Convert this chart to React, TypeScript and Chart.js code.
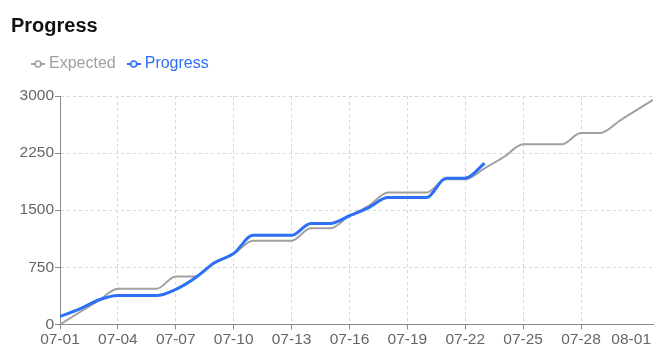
import React, { useEffect, useRef } from "react";
import { Chart, registerables } from "chart.js";

Chart.register(...registerables);

// ---- data ----
const dates = [
  "07-01", "07-02", "07-03", "07-04", "07-05", "07-06", "07-07", "07-08",
  "07-09", "07-10", "07-11", "07-12", "07-13", "07-14", "07-15", "07-16",
  "07-17", "07-18", "07-19", "07-20", "07-21", "07-22", "07-23", "07-24",
  "07-25", "07-26", "07-27", "07-28", "07-29", "07-30", "07-31", "08-01",
];
const expectedValues = [
  0, 156, 312, 468, 468, 468, 630, 630, 805, 925, 1100, 1100, 1100, 1262, 1262, 1427,
  1557, 1732, 1732, 1732, 1907, 1907, 2050, 2199, 2365, 2365, 2365, 2515, 2515, 2675,
  2835, 2990,
];
const progressValues = [
  105, 200, 320, 380, 380, 380, 460, 610, 810, 930, 1170, 1170, 1170, 1326, 1326, 1427,
  1535, 1666, 1666, 1666, 1920, 1920, 2116,
];
const seriesNames = ["Expected", "Progress"];
const xTickDays = [0, 3, 6, 9, 12, 15, 18, 21, 24, 27];
const yTickValues = [0, 750, 1500, 2250, 3000];
const X_MAX = 30.73;
const LAST_LABEL_POS = 29.6;

const FONT = "'Liberation Sans', Arial, Helvetica, sans-serif";
const GREY = "#a0a0a0";
const BLUE = "#2b70f6";
const AXIS = "#8a8a8a";
const GRID = "#d6d6d6";
const LABEL = "#666666";

function makeIcon(color: string): HTMLCanvasElement {
  const c = document.createElement("canvas");
  c.width = 14;
  c.height = 10;
  const g = c.getContext("2d")!;
  g.strokeStyle = color;
  g.lineWidth = 2;
  g.beginPath();
  g.moveTo(0, 5);
  g.lineTo(14, 5);
  g.stroke();
  g.beginPath();
  g.arc(7, 5, 3, 0, Math.PI * 2);
  g.fillStyle = "#ffffff";
  g.fill();
  g.lineWidth = 1.6;
  g.stroke();
  return c;
}

const legendSpacer = {
  id: "legendSpacer",
  beforeInit(chart: any) {
    const legend = chart.legend;
    if (!legend) return;
    const orig = legend.fit;
    legend.fit = function () {
      orig.call(this);
      this.height += 14;
    };
  },
};

export default function App() {
  const ref = useRef<HTMLCanvasElement | null>(null);

  useEffect(() => {
    if (!ref.current) return;
    const icons = [makeIcon(GREY), makeIcon(BLUE)];
    const colors = [GREY, BLUE];
    const chart = new Chart(ref.current, {
      type: "line",
      data: {
        datasets: [
          {
            label: seriesNames[0],
            data: expectedValues.map((v, i) => ({ x: i, y: v })),
            borderColor: GREY,
            backgroundColor: GREY,
            borderWidth: 2,
            pointRadius: 0,
            pointHoverRadius: 0,
            cubicInterpolationMode: "monotone",
            clip: 0,
            order: 2,
          },
          {
            label: seriesNames[1],
            data: progressValues.map((v, i) => ({ x: i, y: v })),
            borderColor: BLUE,
            backgroundColor: BLUE,
            borderWidth: 3,
            pointRadius: 0,
            pointHoverRadius: 0,
            cubicInterpolationMode: "monotone",
            clip: 0,
            order: 1,
          },
        ],
      },
      options: {
        animation: false,
        responsive: false,
        layout: { padding: { left: 20, right: 11, top: 41, bottom: 14 } },
        plugins: {
          title: { display: false },
          tooltip: { enabled: false },
          legend: {
            display: true,
            position: "top",
            align: "start",
            labels: {
              usePointStyle: true,
              pointStyleWidth: 6,
              padding: 15,
              font: { size: 16, family: FONT },
              generateLabels: (ch: any) =>
                ch.data.datasets.map((ds: any, i: number) => ({
                  text: ds.label,
                  fontColor: colors[i],
                  pointStyle: icons[i],
                  datasetIndex: i,
                  hidden: !ch.isDatasetVisible(i),
                  lineWidth: 0,
                  strokeStyle: "transparent",
                  fillStyle: "transparent",
                })),
            },
          },
        },
        scales: {
          x: {
            type: "linear",
            min: 0,
            max: X_MAX,
            afterBuildTicks: (scale: any) => {
              scale.ticks = [
                ...xTickDays.map((v) => ({ value: v })),
                { value: LAST_LABEL_POS },
              ];
            },
            ticks: {
              autoSkip: false,
              maxRotation: 0,
              minRotation: 0,
              padding: 1,
              color: LABEL,
              font: { size: 15.5, family: FONT },
              callback: (value: any) =>
                value === LAST_LABEL_POS ? dates[dates.length - 1] : dates[value],
            },
            grid: {
              color: (ctx: any) =>
                ctx.tick && ctx.tick.value === LAST_LABEL_POS ? "rgba(0,0,0,0)" : GRID,
              tickColor: (ctx: any) =>
                ctx.tick && ctx.tick.value === LAST_LABEL_POS ? "rgba(0,0,0,0)" : AXIS,
              tickLength: 5,
              lineWidth: 1,
            },
            border: { color: AXIS, width: 1, dash: [3, 3] },
          },
          y: {
            min: yTickValues[0],
            max: yTickValues[yTickValues.length - 1],
            afterBuildTicks: (scale: any) => {
              scale.ticks = yTickValues.map((v) => ({ value: v }));
            },
            afterFit: (scale: any) => {
              scale.width = 40;
            },
            ticks: {
              padding: 1,
              color: LABEL,
              font: { size: 15.5, family: FONT },
              callback: (value: any) => String(value),
            },
            grid: { color: GRID, tickColor: AXIS, tickLength: 5, lineWidth: 1 },
            border: { color: AXIS, width: 1, dash: [3, 3] },
          },
        },
      },
      plugins: [legendSpacer],
    } as any);
    return () => chart.destroy();
  }, []);

  return (
    <div style={{ position: "fixed", left: 0, top: 0, width: 664, height: 364, background: "#fff" }}>
      <div
        style={{
          position: "absolute",
          left: 11,
          top: 13,
          font: `bold 20px ${FONT}`,
          lineHeight: "24px",
          color: "#111",
          margin: 0,
        }}
      >
        Progress
      </div>
      <canvas ref={ref} width={664} height={364} style={{ display: "block", width: 664, height: 364 }} />
    </div>
  );
}
